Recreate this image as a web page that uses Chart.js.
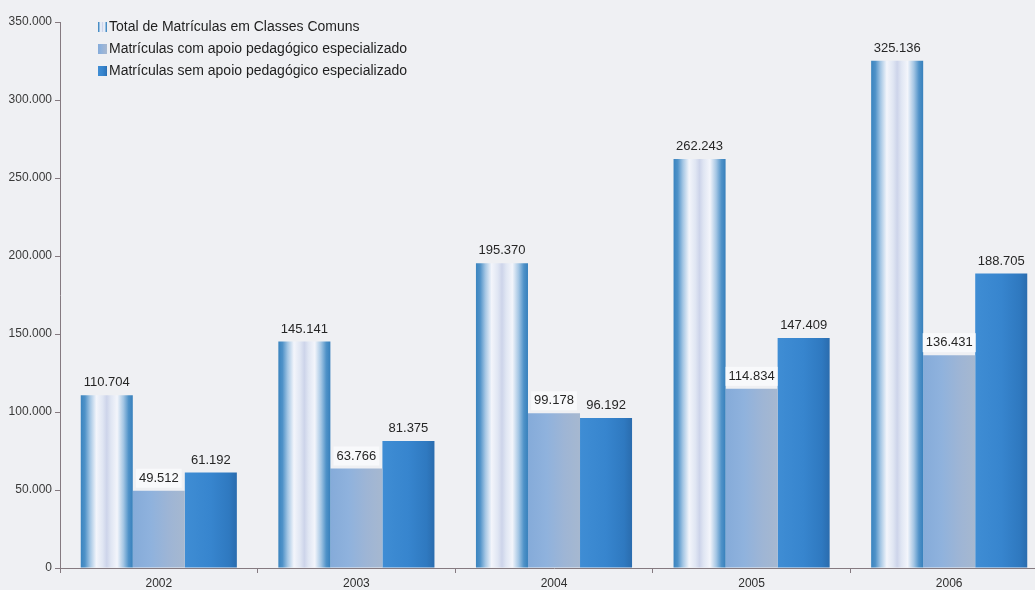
<!DOCTYPE html>
<html lang="pt-BR">
<head>
<meta charset="utf-8">
<title>Matrículas em Classes Comuns 2002-2006</title>
<script src="https://cdn.jsdelivr.net/npm/chart.js@4.4.1/dist/chart.umd.min.js"></script>
<style>
  html, body { margin: 0; padding: 0; background: #eff0f3; overflow: hidden; }
  #wrap { position: relative; width: 1048px; height: 590px; }
</style>
</head>
<body>
<div id="wrap"><canvas id="barChart"></canvas></div>
<script>
// dados por ano
const anos = ['2002', '2003', '2004', '2005', '2006'];
const totalClassesComuns = [110704, 145141, 195370, 262243, 325136];
const comApoio = [49512, 63766, 99178, 114834, 136431];
const semApoio = [61192, 81375, 96192, 147409, 188705];
const rotulos = [
  'Total de Matrículas em Classes Comuns',
  'Matrículas com apoio pedagógico especializado',
  'Matrículas sem apoio pedagógico especializado'
];
const eixoMax = 350000;
const eixoPasso = 50000;

const FONTE = 'Arial, "Liberation Sans", sans-serif';
const CAT_PCT = 0.79;

// gradientes horizontais de cada série (posição, cor)
const paradas = [
  [[0, '#3a84bf'], [0.08, '#4f92c8'], [0.18, '#a4c6e4'], [0.3, '#f3f5fb'], [0.42, '#e0e6f3'], [0.5, '#cdd4ea'],
   [0.58, '#e0e6f3'], [0.7, '#f3f5fb'], [0.82, '#a4c6e4'], [0.92, '#4f92c8'], [1, '#3780bc']],
  [[0, '#85abd9'], [0.35, '#8fb2dd'], [0.7, '#9eb5d5'], [1, '#a6b8d0']],
  [[0, '#3f8dd4'], [0.5, '#3785ce'], [0.85, '#2f79c0'], [1, '#2a6cae']]
];

function formata(n) {
  return String(n).replace(/\B(?=(\d{3})+(?!\d))/g, '.');
}

function gradiente(ctx, x0, x1, stops) {
  const g = ctx.createLinearGradient(x0, 0, x1, 0);
  stops.forEach(s => g.addColorStop(s[0], s[1]));
  return g;
}

function corBarra(c) {
  const chart = c.chart;
  const sx = chart.scales.x;
  const stops = paradas[c.datasetIndex];
  if (!sx || !chart.chartArea || c.type !== 'data') return stops[1][1];
  const larg = (sx.width / anos.length) * CAT_PCT / 3;
  const centro = sx.getPixelForValue(c.dataIndex) + (c.datasetIndex - 1) * larg;
  return gradiente(chart.ctx, centro - larg / 2, centro + larg / 2, stops);
}

// fundo
const fundo = {
  id: 'fundo',
  beforeDraw(chart) {
    const ctx = chart.ctx;
    ctx.save();
    ctx.fillStyle = '#eff0f3';
    ctx.fillRect(0, 0, chart.width, chart.height);
    ctx.restore();
  }
};

// valores acima das barras
const valores = {
  id: 'valores',
  afterDatasetsDraw(chart) {
    const ctx = chart.ctx;
    ctx.save();
    ctx.font = '13px ' + FONTE;
    ctx.textAlign = 'center';
    ctx.textBaseline = 'bottom';
    chart.data.datasets.forEach((ds, i) => {
      chart.getDatasetMeta(i).data.forEach((bar, j) => {
        const txt = formata(ds.data[j]);
        if (i === 1) {
          const w = ctx.measureText(txt).width + 6;
          ctx.fillStyle = '#f8f9fb';
          ctx.fillRect(bar.x - w / 2, bar.y - 22, w, 19);
        }
        ctx.fillStyle = '#262626';
        ctx.fillText(txt, bar.x, bar.y - 6);
      });
    });
    ctx.restore();
  }
};

// legenda no canto superior
const legenda = {
  id: 'legenda',
  afterDraw(chart) {
    const ctx = chart.ctx;
    ctx.save();
    ctx.font = '14px ' + FONTE;
    ctx.textBaseline = 'middle';
    rotulos.forEach((r, i) => {
      const y = 27 + i * 22;
      ctx.fillStyle = gradiente(ctx, 98, 107, paradas[i]);
      ctx.fillRect(98, y - 5, 9, 10);
      ctx.fillStyle = '#1e1e1e';
      ctx.fillText(r, 109, y);
    });
    ctx.restore();
  }
};

const ctxBar = document.getElementById('barChart').getContext('2d');

const barChart = new Chart(ctxBar, {
  type: 'bar',
  data: {
    labels: anos,
    datasets: [
      { label: rotulos[0], data: totalClassesComuns, backgroundColor: corBarra },
      { label: rotulos[1], data: comApoio, backgroundColor: corBarra },
      { label: rotulos[2], data: semApoio, backgroundColor: corBarra }
    ]
  },
  options: {
    responsive: true,
    maintainAspectRatio: false,
    animation: false,
    datasets: {
      bar: { categoryPercentage: CAT_PCT, barPercentage: 1, borderWidth: 0 }
    },
    layout: { padding: { top: 22, right: 0, bottom: 0, left: 0 } },
    plugins: {
      legend: { display: false },
      tooltip: { enabled: false }
    },
    scales: {
      x: {
        afterFit(s) { s.height = 22; },
        grid: { drawOnChartArea: false, tickLength: 5, color: '#857a80' },
        border: { color: '#857a80' },
        ticks: {
          color: '#2e2e2e',
          padding: 3,
          font: { family: FONTE, size: 12 }
        }
      },
      y: {
        min: 0,
        max: eixoMax,
        afterFit(s) { s.width = 60; },
        grid: { drawOnChartArea: false, tickLength: 5, color: '#857a80' },
        border: { color: '#857a80' },
        ticks: {
          stepSize: eixoPasso,
          color: '#3a3a3a',
          padding: 3,
          font: { family: FONTE, size: 12 },
          callback: v => formata(v)
        }
      }
    }
  },
  plugins: [fundo, valores, legenda]
});
</script>
</body>
</html>
